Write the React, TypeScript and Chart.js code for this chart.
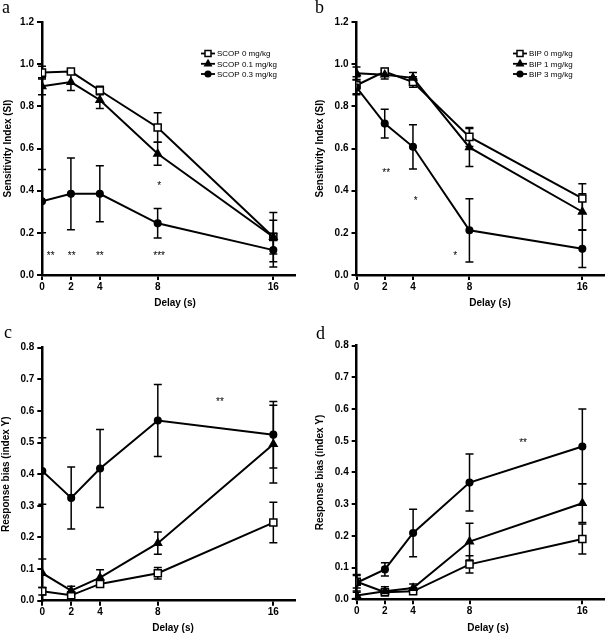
import React, { useEffect, useRef } from 'react';
import { Chart, registerables } from 'chart.js';

Chart.register(...registerables);

// ---------------- data ----------------
const DELAYS = [0, 2, 4, 8, 16];
const X_TICKS = [0, 2, 4, 8, 16];
const SI_TICKS = [0, 0.2, 0.4, 0.6, 0.8, 1.0, 1.2];
const RB_TICKS = [0, 0.1, 0.2, 0.3, 0.4, 0.5, 0.6, 0.7, 0.8];

const SCOP_LABELS = ['SCOP 0 mg/kg', 'SCOP 0.1 mg/kg', 'SCOP 0.3 mg/kg'];
const BIP_LABELS = ['BIP 0 mg/kg', 'BIP 1 mg/kg', 'BIP 3 mg/kg'];

// panel a: sensitivity index, scopolamine
const SI_SCOP_0 = [0.96, 0.965, 0.875, 0.70, 0.18];
const SI_SCOP_0_SEM = [0.03, 0.01, 0.02, 0.07, 0.117];
const SI_SCOP_01 = [0.895, 0.915, 0.83, 0.575, 0.18];
const SI_SCOP_01_SEM = [0.04, 0.04, 0.04, 0.055, 0.08];
const SI_SCOP_03 = [0.35, 0.385, 0.385, 0.245, 0.118];
const SI_SCOP_03_SEM = [0.15, 0.17, 0.133, 0.07, 0.08];

// panel b: sensitivity index, BIP
const SI_BIP_0 = [0.9, 0.965, 0.915, 0.655, 0.363];
const SI_BIP_0_SEM = [0.04, 0.015, 0.025, 0.045, 0.07];
const SI_BIP_1 = [0.957, 0.95, 0.935, 0.605, 0.3];
const SI_BIP_1_SEM = [0.03, 0.02, 0.025, 0.09, 0.085];
const SI_BIP_3 = [0.89, 0.718, 0.608, 0.212, 0.124];
const SI_BIP_3_SEM = [0.035, 0.068, 0.105, 0.15, 0.088];

// panel c: response bias, scopolamine
const RB_SCOP_0 = [0.03, 0.017, 0.053, 0.087, 0.247];
const RB_SCOP_0_SEM = [0.012, 0.008, 0.01, 0.018, 0.064];
const RB_SCOP_01 = [0.087, 0.032, 0.073, 0.182, 0.495];
const RB_SCOP_01_SEM = [0.045, 0.014, 0.025, 0.035, 0.123];
const RB_SCOP_03 = [0.41, 0.325, 0.418, 0.57, 0.525];
const RB_SCOP_03_SEM = [0.105, 0.098, 0.123, 0.114, 0.105];

// panel d: response bias, BIP
const RB_BIP_0 = [0.055, 0.022, 0.025, 0.11, 0.19];
const RB_BIP_0_SEM = [0.02, 0.008, 0.008, 0.027, 0.047];
const RB_BIP_1 = [0.012, 0.025, 0.035, 0.182, 0.303];
const RB_BIP_1_SEM = [0.01, 0.014, 0.013, 0.058, 0.061];
const RB_BIP_3 = [0.052, 0.094, 0.209, 0.368, 0.482];
const RB_BIP_3_SEM = [0.026, 0.021, 0.075, 0.09, 0.118];

// significance marks (text, delay, value)
const STARS_A_TEXT = ['**', '**', '**', '***', '*'];
const STARS_A_X = [0.6, 2.05, 4.0, 8.1, 8.1];
const STARS_A_Y = [0.1, 0.1, 0.1, 0.1, 0.43];
const STARS_B_TEXT = ['**', '*', '*'];
const STARS_B_X = [2.1, 4.2, 7.0];
const STARS_B_Y = [0.49, 0.36, 0.1];
const STARS_C_TEXT = ['**'];
const STARS_C_X = [12.3];
const STARS_C_Y = [0.635];
const STARS_D_TEXT = ['**'];
const STARS_D_X = [11.8];
const STARS_D_Y = [0.5];

// ---------------- styling ----------------
const FONT = "'Liberation Sans', Arial, Helvetica, sans-serif";
const SERIF = "'Liberation Serif', 'Times New Roman', serif";
const MARKERS = ['rect', 'triangle', 'circle'];
const MARKER_FILL = ['#ffffff', '#000000', '#000000'];
const MARKER_R = [5, 4.3, 3.3];
const DRAW_ORDER = [2, 0, 1];

function drawMarker(ctx: CanvasRenderingContext2D, style: string, x: number, y: number, r: number, fill: string) {
  ctx.save();
  ctx.beginPath();
  if (style === 'rect') {
    const s = r * Math.SQRT1_2;
    ctx.rect(x - s, y - s, 2 * s, 2 * s);
  } else if (style === 'triangle') {
    ctx.moveTo(x, y - r);
    ctx.lineTo(x + r * 0.866, y + r * 0.5);
    ctx.lineTo(x - r * 0.866, y + r * 0.5);
    ctx.closePath();
  } else {
    ctx.arc(x, y, r, 0, Math.PI * 2);
  }
  ctx.fillStyle = fill;
  ctx.fill();
  ctx.lineWidth = 1.5;
  ctx.strokeStyle = '#000';
  ctx.stroke();
  ctx.restore();
}

type Panel = {
  key: string;
  left: number; top: number; width: number; height: number;
  area: { left: number; top: number; right: number; bottom: number };
  xMax: number; yMax: number; yTicks: number[];
  yTitle: string; yTitleX: number;
  letter: string; letterX: number; letterY: number;
  xTitleX: number; xTitleY: number;
  labels: string[]; series: number[][]; errors: number[][];
  legend: null | { x: number; y: number[] };
  starsText: string[]; starsX: number[]; starsY: number[];
};

const PANELS: Panel[] = [
  {
    key: 'a', left: 0, top: 0, width: 305, height: 316,
    area: { left: 42, top: 22, right: 295, bottom: 275 },
    xMax: 17.5, yMax: 1.2, yTicks: SI_TICKS,
    yTitle: 'Sensitivity Index (SI)', yTitleX: 8.3,
    letter: 'a', letterX: 2, letterY: 13,
    xTitleX: 175, xTitleY: 303.5,
    labels: SCOP_LABELS,
    series: [SI_SCOP_0, SI_SCOP_01, SI_SCOP_03],
    errors: [SI_SCOP_0_SEM, SI_SCOP_01_SEM, SI_SCOP_03_SEM],
    legend: { x: 208, y: [53.5, 63.8, 74] },
    starsText: STARS_A_TEXT, starsX: STARS_A_X, starsY: STARS_A_Y,
  },
  {
    key: 'b', left: 305, top: 0, width: 305, height: 316,
    area: { left: 51.5, top: 22, right: 305, bottom: 275 },
    xMax: 17.5, yMax: 1.2, yTicks: SI_TICKS,
    yTitle: 'Sensitivity Index (SI)', yTitleX: 15,
    letter: 'b', letterX: 10, letterY: 13,
    xTitleX: 185, xTitleY: 303.5,
    labels: BIP_LABELS,
    series: [SI_BIP_0, SI_BIP_1, SI_BIP_3],
    errors: [SI_BIP_0_SEM, SI_BIP_1_SEM, SI_BIP_3_SEM],
    legend: { x: 215, y: [53.5, 63.8, 74] },
    starsText: STARS_B_TEXT, starsX: STARS_B_X, starsY: STARS_B_Y,
  },
  {
    key: 'c', left: 0, top: 316, width: 305, height: 317,
    area: { left: 42.3, top: 31.7, right: 295, bottom: 284.7 },
    xMax: 17.5, yMax: 0.8, yTicks: RB_TICKS,
    yTitle: 'Response bias (index Y)', yTitleX: 6.5,
    letter: 'c', letterX: 4, letterY: 22,
    xTitleX: 173, xTitleY: 312,
    labels: SCOP_LABELS,
    series: [RB_SCOP_0, RB_SCOP_01, RB_SCOP_03],
    errors: [RB_SCOP_0_SEM, RB_SCOP_01_SEM, RB_SCOP_03_SEM],
    legend: null,
    starsText: STARS_C_TEXT, starsX: STARS_C_X, starsY: STARS_C_Y,
  },
  {
    key: 'd', left: 305, top: 316, width: 305, height: 317,
    area: { left: 51.7, top: 29.7, right: 305, bottom: 283.2 },
    xMax: 17.5, yMax: 0.8, yTicks: RB_TICKS,
    yTitle: 'Response bias (index Y)', yTitleX: 15.5,
    letter: 'd', letterX: 11, letterY: 23,
    xTitleX: 183, xTitleY: 312,
    labels: BIP_LABELS,
    series: [RB_BIP_0, RB_BIP_1, RB_BIP_3],
    errors: [RB_BIP_0_SEM, RB_BIP_1_SEM, RB_BIP_3_SEM],
    legend: null,
    starsText: STARS_D_TEXT, starsX: STARS_D_X, starsY: STARS_D_Y,
  },
];

function makeConfig(p: Panel): any {
  const datasets = p.series.map((data, i) => ({
    label: p.labels[i],
    data: DELAYS.map((d, j) => ({ x: d, y: data[j] })),
    errors: p.errors[i],
    borderColor: '#000',
    borderWidth: 2,
    pointStyle: MARKERS[i],
    pointRadius: MARKER_R[i],
    pointBackgroundColor: MARKER_FILL[i],
    pointBorderColor: '#000',
    pointBorderWidth: 1.5,
    order: DRAW_ORDER[i],
    tension: 0,
    fill: false,
  }));

  const extras = {
    id: 'extras' + p.key,
    beforeDatasetsDraw(chart: any) {
      const ctx = chart.ctx;
      const xs = chart.scales.x;
      const ys = chart.scales.y;
      ctx.save();
      ctx.strokeStyle = '#000';
      ctx.lineWidth = 1.5;
      chart.data.datasets.forEach((ds: any) => {
        ds.data.forEach((pt: any, j: number) => {
          const e = ds.errors[j];
          const x = xs.getPixelForValue(pt.x);
          const y1 = ys.getPixelForValue(pt.y + e);
          const y2 = ys.getPixelForValue(Math.max(0, pt.y - e));
          ctx.beginPath();
          ctx.moveTo(x, y1); ctx.lineTo(x, y2);
          ctx.moveTo(x - 4, y1); ctx.lineTo(x + 4, y1);
          if (pt.y - e > 0) { ctx.moveTo(x - 4, y2); ctx.lineTo(x + 4, y2); }
          ctx.stroke();
        });
      });
      ctx.restore();
    },
    afterDraw(chart: any) {
      const ctx = chart.ctx;
      const xs = chart.scales.x;
      const ys = chart.scales.y;
      ctx.save();
      // panel letter
      ctx.fillStyle = '#000';
      ctx.font = `18px ${SERIF}`;
      ctx.textAlign = 'left';
      ctx.textBaseline = 'alphabetic';
      ctx.fillText(p.letter, p.letterX, p.letterY);
      // x axis title
      ctx.font = `bold 10px ${FONT}`;
      ctx.textAlign = 'center';
      ctx.textBaseline = 'middle';
      ctx.fillText('Delay (s)', p.xTitleX, p.xTitleY);
      // significance marks
      ctx.font = `10px ${FONT}`;
      p.starsText.forEach((t, i) => {
        ctx.fillText(t, xs.getPixelForValue(p.starsX[i]), ys.getPixelForValue(p.starsY[i]) + 2);
      });
      // legend
      if (p.legend) {
        const lg = p.legend;
        ctx.font = `8px ${FONT}`;
        ctx.textAlign = 'left';
        p.labels.forEach((lab, i) => {
          const y = lg.y[i];
          ctx.beginPath();
          ctx.lineWidth = 1.8;
          ctx.strokeStyle = '#000';
          ctx.moveTo(lg.x - 7, y); ctx.lineTo(lg.x + 7, y);
          ctx.stroke();
          drawMarker(ctx, MARKERS[i], lg.x, y, MARKER_R[i] * 0.85, MARKER_FILL[i]);
          ctx.fillStyle = '#000';
          ctx.fillText(lab, lg.x + 9, y + 0.5);
        });
      }
      ctx.restore();
    },
  };

  const tickFont = { family: FONT, size: 10, weight: 'bold' as const };

  return {
    type: 'line',
    data: { datasets },
    plugins: [extras],
    options: {
      animation: false,
      responsive: false,
      maintainAspectRatio: false,
      events: [],
      layout: { padding: { left: 0, top: p.area.top, right: p.width - p.area.right, bottom: 0 } },
      plugins: { legend: { display: false }, tooltip: { enabled: false }, title: { display: false } },
      scales: {
        x: {
          type: 'linear',
          min: 0,
          max: p.xMax,
          afterBuildTicks: (s: any) => { s.ticks = X_TICKS.map((v) => ({ value: v })); },
          afterFit: (s: any) => { s.height = p.height - p.area.bottom; },
          grid: { display: true, drawOnChartArea: false, drawTicks: true, tickLength: 5, color: '#000', lineWidth: 2 },
          border: { display: true, color: '#000', width: 2.5 },
          ticks: { font: tickFont, color: '#000', padding: 1, maxRotation: 0, autoSkip: false, callback: (v: any) => String(v) },
          title: { display: false },
        },
        y: {
          type: 'linear',
          min: 0,
          max: p.yMax,
          afterBuildTicks: (s: any) => { s.ticks = p.yTicks.map((v) => ({ value: v })); },
          afterFit: (s: any) => { s.width = p.area.left; },
          grid: { display: true, drawOnChartArea: false, drawTicks: true, tickLength: 5, color: '#000', lineWidth: 2 },
          border: { display: true, color: '#000', width: 2.5 },
          ticks: { font: tickFont, color: '#000', padding: 3, autoSkip: false, callback: (v: any) => Number(v).toFixed(1) },
          title: {
            display: true,
            text: p.yTitle,
            color: '#000',
            font: { family: FONT, size: 10, weight: 'bold' },
            padding: { top: p.yTitleX - 6, bottom: 0 },
          },
        },
      },
    },
  };
}

function PanelChart({ p }: { p: Panel }) {
  const ref = useRef<HTMLCanvasElement | null>(null);
  useEffect(() => {
    if (!ref.current) return;
    const chart = new Chart(ref.current, makeConfig(p));
    return () => chart.destroy();
  }, [p]);
  return (
    <canvas
      ref={ref}
      width={p.width}
      height={p.height}
      style={{ position: 'absolute', left: p.left, top: p.top, width: p.width, height: p.height, display: 'block' }}
    />
  );
}

export default function App() {
  return (
    <div style={{ position: 'absolute', left: 0, top: 0, width: 610, height: 633, background: '#fff', overflow: 'hidden' }}>
      {PANELS.map((p) => (
        <PanelChart key={p.key} p={p} />
      ))}
    </div>
  );
}
